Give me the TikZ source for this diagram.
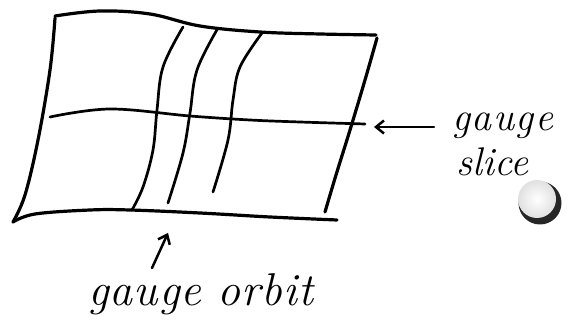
\documentclass[tikz,border=0pt]{standalone}
\usetikzlibrary{arrows.meta}
\begin{document}
\begin{tikzpicture}[x=1pt,y=-1pt,
  pen/.style={line width=3.2pt,line cap=round,line join=round},
  thin pen/.style={line width=2.7pt,line cap=round,line join=round},
  hand/.style={font=\fontsize{40}{40}\selectfont\itshape,inner sep=0pt},
  bighand/.style={font=\fontsize{46}{46}\selectfont\itshape,inner sep=0pt},
  handarrow/.style={line width=2.5pt,line cap=round,-{Straight Barb[length=8pt,width=13pt,line width=2.5pt]}}]
\useasboundingbox (0,0) rectangle (570,328);
% sheet outline
\draw[pen] plot[smooth,tension=0.6] coordinates {(55,16) (100,11) (150,14) (200,26) (260,32) (320,34) (376,35)};
\draw[pen] plot[smooth,tension=0.6] coordinates {(377,38) (365,80) (350,130) (336,175) (325,212)};
\draw[pen] plot[smooth,tension=0.6] coordinates {(55,18) (50,70) (38,140) (25,195) (13,222)};
\draw[pen] plot[smooth,tension=0.6] coordinates {(13,222) (35,214) (90,210) (130,210) (200,213) (270,217) (337,220)};
% gauge slice line
\draw[thin pen] plot[smooth,tension=0.6] coordinates {(50,117) (110,109) (190,116) (250,120) (300,122) (365,124)};
% gauge orbits
\draw[thin pen] plot[smooth,tension=0.6] coordinates {(183,27) (163,67) (157,110) (153,150) (143,187) (132,210)};
\draw[thin pen] plot[smooth,tension=0.6] coordinates {(218,28) (197,70) (190,113) (183,153) (168,203)};
\draw[thin pen] plot[smooth,tension=0.6] coordinates {(262,33) (240,67) (233,100) (228,140) (213,192)};
% labels
\node[hand,anchor=base west] (slice1) at (452,131) {g\kern1.5pt a\kern1.5pt u\kern1.5pt g\kern1.5pt e};
\node[hand,anchor=base west] (slice2) at (456,176) {slice};
\node[bighand,anchor=base west] (orbit) at (88,306) {g\kern1pt a\kern1pt u\kern1pt g\kern1pt e\ o\kern1pt r\kern1pt b\kern1pt i\kern1pt t};
\coordinate (slicestart) at (434,127);
\coordinate (slicept) at (374,127);
\coordinate (orbitstart) at (152,268);
\coordinate (orbitpt) at (168,233);
\draw[handarrow] (slicestart) -- (slicept);
\draw[handarrow] (orbitstart) -- (orbitpt);
% little ball
\fill[black!85] (540,203) circle (21.5);
\shade[inner color=white,outer color=white!88!black] (537,199) circle (19);
\end{tikzpicture}
\end{document}
